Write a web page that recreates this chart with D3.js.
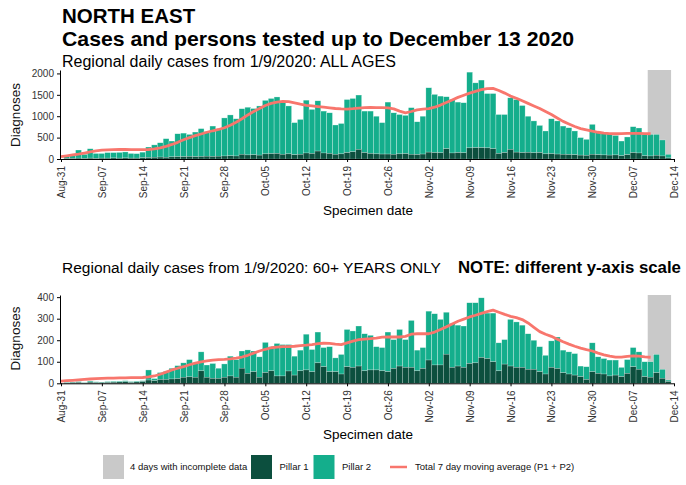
<!DOCTYPE html>
<html>
<head>
<meta charset="utf-8">
<script src="https://cdn.jsdelivr.net/npm/d3@7"></script>
<style>
  body { margin: 0; background: #fff; }
  svg { font-family: "Liberation Sans", Arial, sans-serif; }
</style>
</head>
<body>
<script>

// daily cases, 1 Sep 2020 .. 13 Dec 2020 (104 days)
var allTotal = [
  60, 90, 210, 110, 240, 130,
  130, 150, 150, 155, 165, 130, 125,
  160, 280, 330, 380, 475, 420, 590,
  605, 575, 630, 710, 640, 770, 690,
  960, 1030, 940, 1175, 1210, 1180, 1240,
  1370, 1415, 1450, 1315, 1240, 850, 925,
  1375, 1160, 1360, 1120, 1080, 795, 830,
  1390, 1415, 1495, 1120, 1120, 1000, 850,
  1330, 1080, 1040, 1020, 1200, 870, 1000,
  1665, 1510, 1470, 1455, 1390, 1330, 1315,
  2030, 1780, 1845, 1530, 1530, 1040, 1040,
  1430, 1390, 1250, 1000, 890, 785, 655,
  940, 890, 770, 730, 655, 500, 460,
  810, 615, 590, 590, 550, 420, 515,
  755, 725, 575, 575, 575, 445, 110
];
var allPillar1 = [
  15, 15, 20, 15, 20, 15,
  20, 20, 25, 20, 25, 20, 20,
  30, 35, 40, 45, 40, 50, 55,
  55, 60, 55, 60, 65, 60, 65,
  70, 75, 70, 110, 95, 100, 90,
  120, 125, 130, 110, 120, 100, 110,
  140, 130, 185, 140, 130, 110, 120,
  150, 170, 225, 150, 130, 120, 115,
  115, 110, 120, 125, 110, 105, 115,
  160, 150, 145, 240, 140, 150, 145,
  260, 265, 265, 260, 240, 130, 150,
  225, 160, 150, 155, 145, 150, 120,
  125, 115, 110, 105, 100, 90, 85,
  110, 100, 95, 90, 95, 75, 100,
  150, 140, 75, 70, 85, 70, 25
];
// 7 day average, 31 Aug .. 10 Dec
var allAvg = [
  55, 75, 95, 115, 140, 165, 190,
  205, 215, 220, 222, 222, 220, 218,
  218, 222, 235, 260, 295, 340, 390,
  450, 500, 545, 585, 625, 660, 690,
  730, 790, 860, 940, 1030, 1110, 1180,
  1250, 1300, 1330, 1345, 1340, 1310, 1280,
  1255, 1240, 1225, 1210, 1195, 1180, 1170,
  1165, 1175, 1190, 1200, 1205, 1200, 1200,
  1195, 1170, 1120, 1080, 1110, 1150, 1165,
  1175, 1210, 1260, 1320, 1380, 1440, 1490,
  1540, 1580, 1620, 1645, 1650, 1600, 1540,
  1470, 1420, 1360, 1300, 1240, 1180, 1110,
  1040, 960, 880, 820, 760, 710, 680,
  650, 625, 605, 595, 590, 592, 597,
  600, 598, 592, 590
];

var oldTotal = [
  5, 6, 8, 4, 10, 7,
  6, 8, 9, 10, 12, 8, 10,
  12, 62, 22, 50, 55, 70, 82,
  95, 110, 95, 146, 85, 92, 70,
  90, 126, 110, 150, 155, 150, 123,
  190, 170, 185, 180, 180, 126, 154,
  228, 157, 238, 166, 170, 118, 134,
  250, 243, 266, 230, 223, 170, 166,
  238, 203, 250, 203, 292, 154, 166,
  335, 323, 297, 330, 277, 270, 266,
  374, 374, 397, 326, 326, 188, 203,
  297, 285, 270, 230, 200, 170, 130,
  197, 215, 154, 146, 138, 80, 77,
  188, 123, 115, 108, 108, 74, 110,
  166, 146, 100, 100, 134, 65, 15
];
var oldPillar1 = [
  2, 3, 4, 2, 5, 3,
  3, 4, 5, 6, 7, 4, 6,
  8, 15, 12, 18, 18, 20, 22,
  28, 30, 28, 58, 28, 23, 23,
  28, 34, 28, 70, 46, 54, 28,
  50, 58, 34, 34, 57, 38, 58,
  62, 54, 95, 77, 54, 54, 43,
  77, 74, 80, 58, 62, 62, 58,
  54, 69, 80, 74, 74, 58, 69,
  108, 85, 85, 135, 74, 80, 74,
  92, 95, 120, 115, 100, 58, 89,
  80, 74, 74, 65, 65, 54, 43,
  74, 69, 49, 43, 38, 31, 18,
  54, 46, 43, 34, 38, 31, 46,
  77, 65, 31, 28, 49, 23, 8
];
var oldAvg = [
  10, 12, 14, 16, 18, 20, 22,
  23, 24, 24, 25, 25, 26, 26,
  27, 30, 34, 42, 52, 62, 70,
  77, 86, 94, 100, 104, 108, 110,
  111, 113, 117, 122, 130, 140, 150,
  158, 165, 168, 170, 170, 172, 175,
  177, 180, 184, 186, 185, 182, 180,
  188, 196, 203, 205, 207, 210, 214,
  215, 215, 215, 218, 228, 230, 230,
  230, 238, 250, 262, 275, 288, 298,
  308, 316, 325, 333, 340, 330, 320,
  311, 305, 296, 280, 260, 240, 228,
  218, 205, 193, 182, 172, 163, 156,
  150, 140, 132, 126, 122, 122, 125,
  127, 126, 123, 121
];

var tickLabels = ["Aug-31","Sep-07","Sep-14","Sep-21","Sep-28","Oct-05","Oct-12","Oct-19",
                  "Oct-26","Nov-02","Nov-09","Nov-16","Nov-23","Nov-30","Dec-07","Dec-14"];
var allTicks = [0, 500, 1000, 1500, 2000];
var oldTicks = [0, 100, 200, 300, 400];

var colP1 = "#0c4f3e", colP2 = "#14ae8c", colAvg = "#f8766d", colGrey = "#c9c9c9";

var W = 686, H = 485;
var svg = d3.select("body").append("svg").attr("width", W).attr("height", H);

var day0 = new Date(Date.UTC(2020, 7, 31));
function dayDate(i) { return d3.utcDay.offset(day0, i); }

var x = d3.scaleUtc().domain([day0, dayDate(105)]).range([61, 674]);
var dayW = x(dayDate(1)) - x(dayDate(0));

function panel(total, pillar1, avg, yTicks, yMax, y0, y1, labY) {
  var y = d3.scaleLinear().domain([0, yMax]).range([y0, y1]);
  var g = svg.append("g");

  // incomplete days: 10..13 Dec
  g.append("rect")
    .attr("x", x(dayDate(101)) - dayW / 2)
    .attr("width", x(dayDate(104)) - x(dayDate(101)) + dayW)
    .attr("y", y(yMax))
    .attr("height", y(0) - y(yMax))
    .attr("fill", colGrey);

  var rows = total.map(function (t, i) {
    return { date: dayDate(i + 1), total: t, p1: pillar1[i] };
  });

  g.selectAll(".p2").data(rows).enter().append("rect")
    .attr("x", function (d) { return x(d.date) - dayW / 2; })
    .attr("width", dayW)
    .attr("y", function (d) { return y(d.total); })
    .attr("height", function (d) { return y(d.p1) - y(d.total); })
    .attr("fill", colP2)
    .attr("stroke", "#fff").attr("stroke-opacity", 0.55).attr("stroke-width", 0.5);

  g.selectAll(".p1").data(rows).enter().append("rect")
    .attr("x", function (d) { return x(d.date) - dayW / 2; })
    .attr("width", dayW)
    .attr("y", function (d) { return y(d.p1); })
    .attr("height", function (d) { return y(0) - y(d.p1); })
    .attr("fill", colP1)
    .attr("stroke", "#fff").attr("stroke-opacity", 0.4).attr("stroke-width", 0.5);

  var line = d3.line()
    .x(function (d, i) { return x(dayDate(i)); })
    .y(function (d) { return y(d); });
  g.append("path").datum(avg)
    .attr("d", line)
    .attr("fill", "none")
    .attr("stroke", colAvg)
    .attr("stroke-width", 2.8)
    .attr("stroke-linejoin", "round");

  // axes
  var xa = g.append("g").attr("transform", "translate(0," + y0 + ")")
    .call(d3.axisBottom(x)
      .tickValues(tickLabels.map(function (d, i) { return dayDate(i * 7); }))
      .tickFormat(function (d, i) { return tickLabels[i]; })
      .tickSize(3).tickSizeOuter(0));
  xa.selectAll("text")
    .attr("transform", "rotate(-90)")
    .attr("text-anchor", "end")
    .attr("x", -7).attr("y", 0).attr("dy", "0.35em")
    .style("font-size", "10px").attr("fill", "#333")
    .style("font-family", "Liberation Sans, Arial, sans-serif");
  xa.select(".domain").attr("d", "M60,0.5H674");

  var ya = g.append("g").attr("transform", "translate(60,0)")
    .call(d3.axisLeft(y).tickValues(yTicks).tickFormat(d3.format("d"))
      .tickSize(3).tickSizeOuter(0));
  ya.selectAll("text")
    .style("font-size", "10px").attr("fill", "#333")
    .style("font-family", "Liberation Sans, Arial, sans-serif");

  svg.append("text")
    .attr("transform", "translate(20," + labY + ") rotate(-90)")
    .attr("text-anchor", "middle")
    .style("font-size", "13.5px").attr("fill", "#111")
    .text("Diagnoses");
}

panel(allTotal, allPillar1, allAvg, allTicks, 2080, 159, 70, 115);
panel(oldTotal, oldPillar1, oldAvg, oldTicks, 410, 383.3, 295, 338.5);

// titles
svg.append("text").attr("x", 62).attr("y", 22.5)
  .style("font-size", "20.5px").style("font-weight", "bold").text("NORTH EAST");
svg.append("text").attr("x", 62).attr("y", 45.5)
  .style("font-size", "20.5px").style("font-weight", "bold")
  .attr("textLength", 512).attr("lengthAdjust", "spacingAndGlyphs")
  .text("Cases and persons tested up to December 13 2020");
svg.append("text").attr("x", 62).attr("y", 67)
  .style("font-size", "16px").text("Regional daily cases from 1/9/2020: ALL AGES");
svg.append("text").attr("x", 62).attr("y", 273)
  .style("font-size", "15.5px").text("Regional daily cases from 1/9/2020: 60+ YEARS ONLY");
svg.append("text").attr("x", 458).attr("y", 273)
  .style("font-size", "16.8px").style("font-weight", "bold").text("NOTE: different y-axis scale");

svg.append("text").attr("x", 368).attr("y", 214.5).attr("text-anchor", "middle")
  .style("font-size", "13.5px").text("Specimen date");
svg.append("text").attr("x", 368).attr("y", 439).attr("text-anchor", "middle")
  .style("font-size", "13.5px").text("Specimen date");

// legend
var lg = svg.append("g");
var ly = 467;
lg.append("rect").attr("x", 103).attr("y", ly - 12).attr("width", 21).attr("height", 24).attr("fill", colGrey);
lg.append("rect").attr("x", 251).attr("y", ly - 12).attr("width", 21).attr("height", 24).attr("fill", colP1);
lg.append("rect").attr("x", 313.5).attr("y", ly - 12).attr("width", 21).attr("height", 24).attr("fill", colP2);
lg.append("line").attr("x1", 390).attr("x2", 407).attr("y1", ly).attr("y2", ly)
  .attr("stroke", colAvg).attr("stroke-width", 2.5);
var legTexts = [[130, "4 days with incomplete data"], [279.5, "Pillar 1"], [342, "Pillar 2"],
                [415, "Total 7 day moving average (P1 + P2)"]];
legTexts.forEach(function (t) {
  lg.append("text").attr("x", t[0]).attr("y", ly + 3.4)
    .style("font-size", "9.5px").attr("fill", "#111").text(t[1]);
});

</script>
</body>
</html>
